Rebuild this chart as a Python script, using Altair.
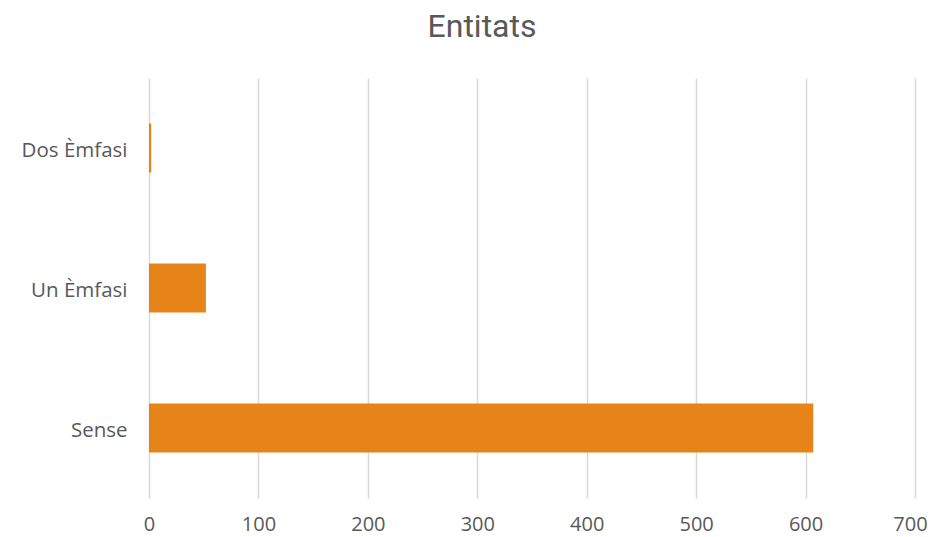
import altair as alt
import pandas as pd

categories = ["Dos Èmfasi", "Un Èmfasi", "Sense"]
values = [2, 52, 607]
ticks = [0, 100, 200, 300, 400, 500, 600, 700]

df = pd.DataFrame({"cat": categories, "val": values})

chart = alt.Chart(df).mark_bar(color="#E6841A").encode(
    x=alt.X("val:Q", scale=alt.Scale(domain=[0, 700], nice=False),
            axis=alt.Axis(values=ticks, title=None,
                          domain=False, ticks=False, labelPadding=16, labelFlush=False,
                          labelOffset=alt.ExprRef("datum.value === 700 ? -5 : 0"),
                          labelFontSize=20, labelColor="#595959", labelFont="Open Sans",
                          grid=True, gridColor="#d9d9d9", gridWidth=1.5)),
    y=alt.Y("cat:N", sort=categories,
            scale=alt.Scale(paddingInner=0.65, paddingOuter=0.325),
            axis=alt.Axis(title=None, domain=False, ticks=False, grid=False, labelPadding=22,
                          labelOffset=3,
                          labelFontSize=20.5, labelColor="#595959", labelFont="Open Sans")),
).properties(
    width=766, height=420,
    title=alt.TitleParams("Entitats", fontSize=32, color="#595959", font="Roboto",
                          fontWeight="normal", anchor="middle", dx=-50, offset=34),
    autosize=alt.AutoSizeParams(type="none"),
    padding={"left": 141, "top": 70, "right": 13, "bottom": 49},
).configure_view(stroke=None)

chart.save("out.html", embed_options={"renderer": "svg", "actions": False})
